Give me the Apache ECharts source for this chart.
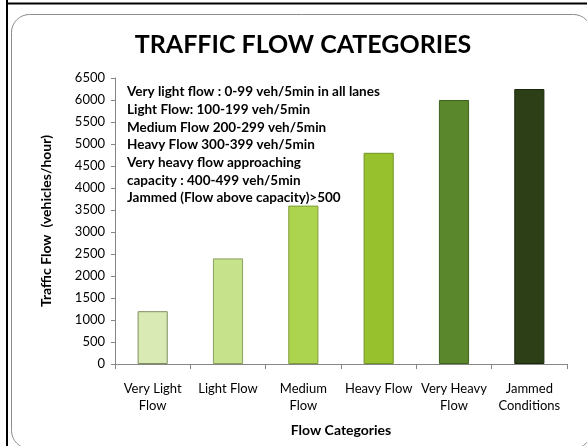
<!DOCTYPE html>
<html>
<head>
<meta charset="utf-8">
<script src="https://cdn.jsdelivr.net/npm/echarts@6/dist/echarts.min.js"></script>
<style>
html,body{margin:0;padding:0;background:#fff;}
#chart{width:587px;height:446px;}
</style>
</head>
<body>
<div id="chart"></div>
<script>
const categories = ['Very Light\nFlow', 'Light Flow', 'Medium\nFlow', 'Heavy Flow', 'Very Heavy\nFlow', 'Jammed\nConditions'];
const flowValues = [1200, 2400, 3600, 4800, 6000, 6250];
const barColors = ['#DAEAB4', '#C6E28B', '#ADD44F', '#97C22D', '#5B872C', '#2D3F16'];
const barBorders = ['#7E8E5E', '#8AA060', '#7F9C3A', '#6F9423', '#3F6220', '#1C280D'];
const noteLines = [
  'Very light flow : 0-99 veh/5min in all lanes',
  'Light Flow: 100-199 veh/5min',
  'Medium Flow 200-299 veh/5min',
  'Heavy Flow 300-399 veh/5min',
  'Very heavy flow approaching',
  'capacity : 400-499 veh/5min',
  'Jammed (Flow above capacity)>500'
];
const yTicks = {min: 0, max: 6500, interval: 500};

const FONT = 'Lato';
const chart = echarts.init(document.getElementById('chart'), null, {renderer: 'canvas'});
chart.setOption({
  animation: false,
  backgroundColor: '#fff',
  title: {
    text: 'TRAFFIC FLOW CATEGORIES',
    left: 298, top: 27, textAlign: 'center',
    textStyle: {fontFamily: FONT, fontWeight: 'bold', fontSize: 25, color: '#000'}
  },
  grid: {left: 115, right: 20, top: 78, bottom: 82, containLabel: false},
  xAxis: {
    type: 'category',
    data: categories,
    name: 'Flow Categories',
    nameLocation: 'middle',
    nameGap: 59,
    nameTextStyle: {fontFamily: FONT, fontWeight: 'bold', fontSize: 14, color: '#000'},
    axisLine: {lineStyle: {color: '#868686', width: 1}},
    axisTick: {show: true, length: 5, lineStyle: {color: '#868686'}},
    axisLabel: {fontFamily: FONT, fontSize: 13, color: '#000', margin: 16, lineHeight: 17, interval: 0}
  },
  yAxis: {
    type: 'value',
    min: yTicks.min, max: yTicks.max, interval: yTicks.interval,
    name: 'Traffic Flow  (vehicles/hour)',
    nameLocation: 'middle',
    nameGap: 62,
    nameTextStyle: {fontFamily: FONT, fontWeight: 'bold', fontSize: 14, color: '#000'},
    axisLine: {show: true, lineStyle: {color: '#868686', width: 1}},
    axisTick: {show: true, length: 4, lineStyle: {color: '#868686'}},
    splitLine: {show: false},
    axisLabel: {fontFamily: FONT, fontSize: 13, color: '#000', margin: 10, formatter: v => String(v)}
  },
  series: [{
    type: 'bar',
    barWidth: '40%',
    data: flowValues.map((v, i) => ({
      value: v,
      itemStyle: {color: barColors[i], borderColor: barBorders[i], borderWidth: 1}
    }))
  }],
  graphic: [
    {type: 'line', shape: {x1: 7, y1: 0, x2: 7, y2: 446}, style: {stroke: '#000', lineWidth: 2}, silent: true},
    {type: 'line', shape: {x1: 6, y1: 3.5, x2: 587, y2: 3.5}, style: {stroke: '#000', lineWidth: 2}, silent: true},
    {type: 'rect', shape: {x: 11.5, y: 14.5, width: 580, height: 434, r: 18},
      style: {fill: 'none', stroke: '#8c8c8c', lineWidth: 1}, silent: true},
    {type: 'text', left: 127, top: 83, silent: true,
      style: {text: noteLines.join('\n'), fontFamily: FONT, fontWeight: 'bold', fontSize: 13.5, lineHeight: 17.7, fill: '#000'}}
  ]
});
</script>
</body>
</html>
